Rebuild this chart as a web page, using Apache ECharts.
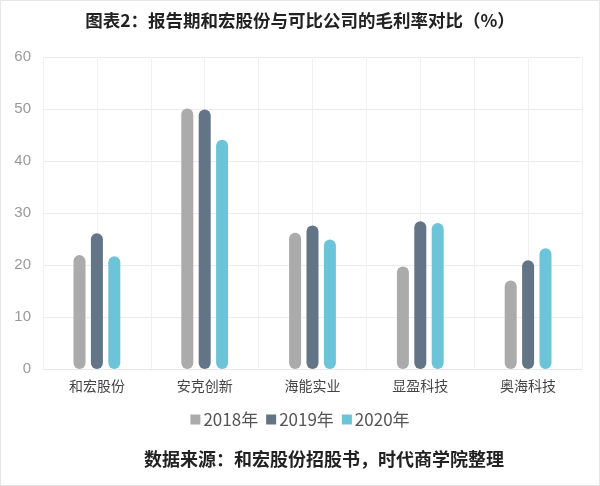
<!DOCTYPE html>
<html><head><meta charset="utf-8">
<script src="https://cdn.jsdelivr.net/npm/echarts@6/dist/echarts.min.js"></script>
<style>html,body{margin:0;padding:0;background:#fff}#c{width:600px;height:486px;box-sizing:border-box;border:1px solid #e6e6e6}</style>
</head><body><div id="c"></div>
<script>
const categories = ['和宏股份','安克创新','海能实业','显盈科技','奥海科技'];
const seriesNames = ['2018年','2019年','2020年'];
const v2018 = [21.9, 50.1, 26.2, 19.7, 17.0];
const v2019 = [26.1, 49.9, 27.6, 28.4, 20.9];
const v2020 = [21.7, 44.1, 24.9, 28.1, 23.2];
const yTicks = [0, 10, 20, 30, 40, 50, 60];
const colors = ['#ababab', '#637486', '#6cc4d8'];

const chart = echarts.init(document.getElementById('c'));
const cjk = '"Noto Sans CJK SC", sans-serif';
const mk = (name, data, i) => ({
  name, type: 'bar', data, barWidth: 12, barGap: '45%',
  itemStyle: { color: colors[i], borderRadius: 6 }
});
chart.setOption({
  animation: false,
  backgroundColor: '#fff',
  title: [{
    text: '图表2：报告期和宏股份与可比公司的毛利率对比（%）',
    left: 'center', top: 6,
    textStyle: { fontFamily: cjk, fontSize: 17.5, fontWeight: 'bold', color: '#222' }
  }, {
    text: '数据来源：和宏股份招股书，时代商学院整理',
    left: 138, top: 444,
    textStyle: { fontFamily: cjk, fontSize: 18, fontWeight: 'bold', color: '#222' }
  }],
  legend: {
    data: seriesNames, top: 405, left: 'center',
    itemWidth: 10, itemHeight: 10, itemGap: 8, icon: 'rect',
    textStyle: { fontFamily: cjk, fontSize: 17, color: '#555', padding: [0,0,0,-2] }
  },
  grid: { left: 42, right: 17, top: 56, bottom: 116 },
  xAxis: [{
    type: 'category', data: categories,
    axisLine: { lineStyle: { color: '#e8e8e8' } }, axisTick: { show: false },
    axisLabel: { fontFamily: cjk, fontSize: 14, color: '#444', margin: 10 },
    splitLine: { show: false }
  }, {
    type: 'category', data: ['','','','','','','','','',''], position: 'bottom',
    axisLine: { show: false }, axisTick: { show: false }, axisLabel: { show: false },
    splitLine: { show: true, lineStyle: { color: '#f1f1f1' } }
  }],
  yAxis: {
    type: 'value', min: yTicks[0], max: yTicks[yTicks.length - 1], interval: 10,
    axisLine: { show: false }, axisTick: { show: false },
    axisLabel: { fontFamily: 'Liberation Sans, sans-serif', fontSize: 15, color: '#999', margin: 12 },
    splitLine: { lineStyle: { color: '#ececec' } }
  },
  series: [mk(seriesNames[0], v2018, 0), mk(seriesNames[1], v2019, 1), mk(seriesNames[2], v2020, 2)]
});
</script></body></html>
